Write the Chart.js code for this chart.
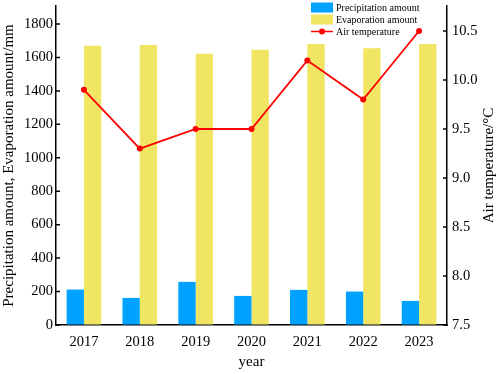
<!DOCTYPE html>
<html>
<head>
<meta charset="utf-8">
<script src="https://cdn.jsdelivr.net/npm/chart.js@4.4.1/dist/chart.umd.min.js"></script>
<style>
  html, body { margin: 0; padding: 0; background: #fff; }
  #wrap { width: 498px; height: 374px; position: relative; }
</style>
</head>
<body>
<div id="wrap"><canvas id="myChart" width="498" height="374"></canvas></div>
<script>
// chart data
const years = ['2017', '2018', '2019', '2020', '2021', '2022', '2023'];
const precipitation = [212, 162, 258, 174, 210, 200, 144];
const evaporation = [1670, 1675, 1622, 1646, 1680, 1655, 1680];
const airTemp = [9.9, 9.3, 9.5, 9.5, 10.2, 9.8, 10.5];
const leftTicks = [0, 200, 400, 600, 800, 1000, 1200, 1400, 1600, 1800];
const rightTicks = [7.5, 8.0, 8.5, 9.0, 9.5, 10.0, 10.5];

const serif = 'Liberation Serif, Times New Roman, serif';

// small tick marks pointing into the plot
const innerTicks = {
    id: 'innerTicks',
    afterDraw(chart) {
        const ctx = chart.ctx;
        const yl = chart.scales.y;
        const yr = chart.scales.y1;
        ctx.save();
        ctx.strokeStyle = '#000';
        ctx.lineWidth = 1.5;
        ctx.beginPath();
        leftTicks.forEach(v => {
            const py = yl.getPixelForValue(v);
            ctx.moveTo(yl.right, py);
            ctx.lineTo(yl.right + 4, py);
        });
        rightTicks.forEach(v => {
            const py = yr.getPixelForValue(v);
            ctx.moveTo(yr.left, py);
            ctx.lineTo(yr.left - 4, py);
        });
        ctx.stroke();

        // right axis title, reads bottom to top
        ctx.fillStyle = '#000';
        ctx.font = '15px ' + serif;
        ctx.textAlign = 'center';
        ctx.textBaseline = 'middle';
        ctx.translate(489, (chart.chartArea.top + chart.chartArea.bottom) / 2);
        ctx.rotate(-Math.PI / 2);
        ctx.fillText('Air temperature/\u00B0C', 0, 0);
        ctx.restore();
    }
};

// legend inside the top right corner
const boxLegend = {
    id: 'boxLegend',
    afterDraw(chart) {
        const ctx = chart.ctx;
        const ds = chart.data.datasets;
        const x0 = 311, w = 22;
        const rows = [7.5, 19.5, 31.5];
        ctx.save();
        ctx.font = '10px ' + serif;
        ctx.textBaseline = 'middle';
        ctx.textAlign = 'left';
        ds.forEach((d, i) => {
            const cy = rows[i];
            if (d.type === 'line') {
                ctx.strokeStyle = d.borderColor;
                ctx.lineWidth = 1.5;
                ctx.beginPath();
                ctx.moveTo(x0, cy);
                ctx.lineTo(x0 + w, cy);
                ctx.stroke();
                ctx.fillStyle = d.borderColor;
                ctx.beginPath();
                ctx.arc(x0 + w / 2, cy, 3, 0, Math.PI * 2);
                ctx.fill();
            } else {
                ctx.fillStyle = d.backgroundColor;
                ctx.fillRect(x0, cy - 5, w, 10);
            }
            ctx.fillStyle = '#000';
            ctx.fillText(d.label, x0 + w + 3, cy + 0.5);
        });
        ctx.restore();
    }
};

const ctx = document.getElementById('myChart').getContext('2d');
const myChart = new Chart(ctx, {
    type: 'bar',
    data: {
        labels: years,
        datasets: [{
            label: 'Precipitation amount',
            data: precipitation,
            backgroundColor: '#00A2FF',
            yAxisID: 'y',
            categoryPercentage: 0.62,
            barPercentage: 1.0,
            order: 1
        }, {
            label: 'Evaporation amount',
            data: evaporation,
            backgroundColor: '#F0E664',
            yAxisID: 'y',
            categoryPercentage: 0.62,
            barPercentage: 1.0,
            order: 1
        }, {
            type: 'line',
            label: 'Air temperature',
            data: airTemp,
            borderColor: '#FF0000',
            backgroundColor: '#FF0000',
            borderWidth: 1.8,
            pointRadius: 3,
            pointBackgroundColor: '#FF0000',
            pointBorderWidth: 0,
            yAxisID: 'y1',
            order: 0
        }]
    },
    options: {
        responsive: false,
        animation: false,
        devicePixelRatio: 1,
        layout: { padding: { top: 6, left: 0, right: 0, bottom: 0 } },
        plugins: {
            legend: { display: false },
            tooltip: { enabled: false }
        },
        scales: {
            x: {
                offset: true,
                grid: { display: false, drawTicks: false },
                border: { color: '#000', width: 1.5 },
                ticks: { color: '#000', font: { family: serif, size: 14.5 }, padding: 8, maxRotation: 0 },
                title: { display: true, text: 'year', color: '#000', font: { family: serif, size: 15 }, padding: { top: 0, bottom: 3 } },
                afterFit(scale) { scale.height = 49; scale.paddingLeft = 0; scale.paddingRight = 0; }
            },
            y: {
                position: 'left',
                min: 0,
                max: 1908,
                grid: { drawOnChartArea: false, drawTicks: false },
                border: { color: '#000', width: 1.5 },
                ticks: { color: '#000', font: { family: serif, size: 14.5 }, padding: 3, callback: v => String(v) },
                afterBuildTicks(scale) { scale.ticks = leftTicks.map(v => ({ value: v })); },
                title: { display: true, text: 'Precipitation amount, Evaporation amount/mm', color: '#000', font: { family: serif, size: 15 }, padding: 0 },
                afterFit(scale) { scale.width = 56; scale.paddingTop = 0; scale.paddingBottom = 0; }
            },
            y1: {
                position: 'right',
                min: 7.5,
                max: 10.755,
                grid: { drawOnChartArea: false, drawTicks: false },
                border: { color: '#000', width: 1.5 },
                ticks: { color: '#000', font: { family: serif, size: 14.5 }, padding: 5, callback: v => v.toFixed(1) },
                afterBuildTicks(scale) { scale.ticks = rightTicks.map(v => ({ value: v })); },
                afterFit(scale) { scale.width = 51; scale.paddingTop = 0; scale.paddingBottom = 0; }
            }
        }
    },
    plugins: [innerTicks, boxLegend]
});
</script>
</body>
</html>
